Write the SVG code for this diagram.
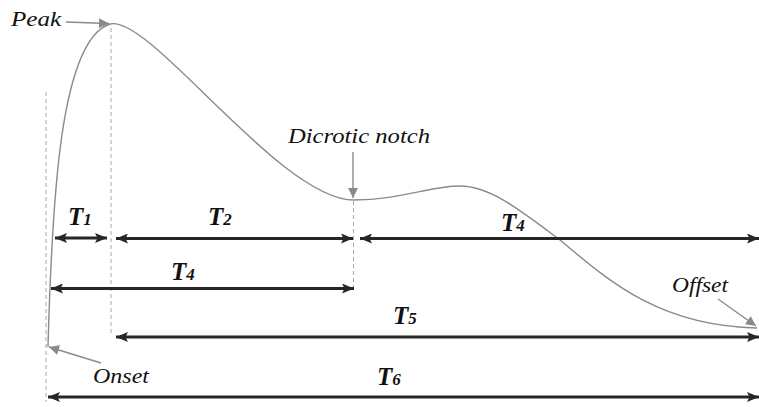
<svg xmlns="http://www.w3.org/2000/svg" width="759" height="407" viewBox="0 0 759 407">
<defs>
<marker id="ah" viewBox="0 0 12 10" refX="12" refY="5" markerWidth="12" markerHeight="10" markerUnits="userSpaceOnUse" orient="auto-start-reverse">
<path d="M0,0 L12,5 L0,10 L2.5,5 Z" fill="#262626"/>
</marker>
<marker id="gh" viewBox="0 0 10 10" refX="10" refY="5" markerWidth="11" markerHeight="10" markerUnits="userSpaceOnUse" orient="auto">
<path d="M0,0 L10,5 L0,10 Z" fill="#8a8a8a"/>
</marker>
<style>
.dash{stroke:#a8a8a8;stroke-width:1;stroke-dasharray:4 3;fill:none}
.dim{stroke:#262626;stroke-width:3.2;fill:none;marker-start:url(#ah);marker-end:url(#ah)}
.ptr{stroke:#8a8a8a;stroke-width:1.4;fill:none;marker-end:url(#gh)}
.curve{stroke:#8a8a8a;stroke-width:1.4;fill:none}
.lbl{font-family:"Liberation Serif",serif;font-style:italic;font-size:21px;fill:#111}
.t{font-family:"Liberation Serif",serif;font-style:italic;font-weight:bold;font-size:25px;fill:#111}
.t tspan{font-size:17px}
</style>
</defs>
<g id="guides">
<line class="dash" x1="46" y1="92" x2="46" y2="402"/>
<line class="dash" x1="111" y1="28" x2="111" y2="335"/>
<line class="dash" x1="353.5" y1="201" x2="353.5" y2="291"/>
</g>
<g id="waveform">
<path class="curve" d="M48,347 C52,200 60,40 110,24 C150,14 280,200 354,200 C400,200 430,186 460,186 C490,186 520,210 560,240 C610,282 660,326 757,328"/>
</g>
<g id="connectors">
<line class="dim" x1="55" y1="238" x2="107" y2="238"/>
<line class="dim" x1="116" y1="238.5" x2="353" y2="238.5"/>
<line class="dim" x1="360" y1="238.5" x2="759" y2="238.5"/>
<line class="dim" x1="51" y1="288.5" x2="354" y2="288.5"/>
<line class="dim" x1="116" y1="337" x2="759" y2="337"/>
<line class="dim" x1="48" y1="397" x2="759" y2="397"/>
<line class="ptr" x1="66" y1="22" x2="109" y2="23.5"/>
<line class="ptr" x1="353" y1="152" x2="353" y2="198"/>
<line class="ptr" x1="101" y1="363" x2="49" y2="347"/>
<line class="ptr" x1="718" y1="299" x2="756" y2="326"/>
</g>
<g id="peak"><text class="lbl" x="11" y="26" textLength="50" lengthAdjust="spacingAndGlyphs">Peak</text></g>
<g id="notch"><text class="lbl" x="288" y="143" textLength="142" lengthAdjust="spacingAndGlyphs">Dicrotic notch</text></g>
<g id="onset"><text class="lbl" x="93" y="383" textLength="56" lengthAdjust="spacingAndGlyphs">Onset</text></g>
<g id="offset"><text class="lbl" x="672" y="292" textLength="56" lengthAdjust="spacingAndGlyphs">Offset</text></g>
<g id="labels">
<text class="t" x="68" y="225">T<tspan>1</tspan></text>
<text class="t" x="208" y="225">T<tspan>2</tspan></text>
<text class="t" x="501" y="231">T<tspan>4</tspan></text>
<text class="t" x="171" y="280">T<tspan>4</tspan></text>
<text class="t" x="393" y="324">T<tspan>5</tspan></text>
<text class="t" x="377" y="385">T<tspan>6</tspan></text>
</g>
</svg>
